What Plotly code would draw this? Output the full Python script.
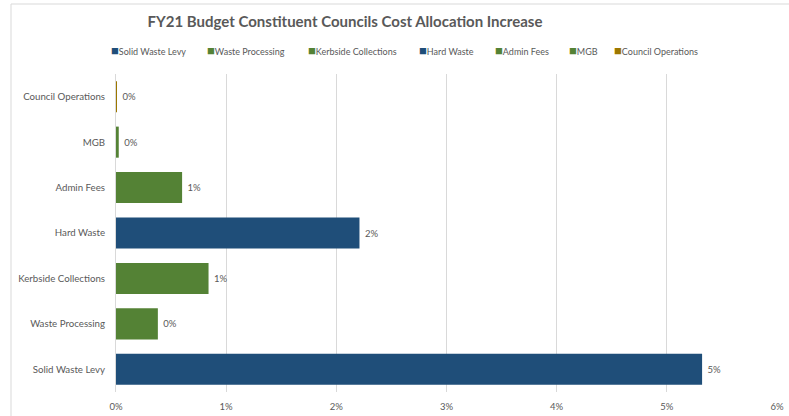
import plotly.graph_objects as go

# Cost allocation increase by budget item (fraction of total)
categories = [
    "Solid Waste Levy",
    "Waste Processing",
    "Kerbside Collections",
    "Hard Waste",
    "Admin Fees",
    "MGB",
    "Council Operations",
]
increase = [0.0532, 0.0038, 0.0084, 0.0221, 0.0060, 0.00025, 0.00001]
x_ticks = [0, 0.01, 0.02, 0.03, 0.04, 0.05, 0.06]

BLUE = "#1F4E79"
GREEN = "#548235"
GOLD = "#9C7700"
bar_colors = [BLUE, GREEN, GREEN, BLUE, GREEN, GREEN, GOLD]

TEXT = "#595959"
GRID = "#D9D9D9"
FONT = "Lato, Calibri, sans-serif"

W, H = 789, 416
M = dict(l=116, r=12, t=74, b=24)

label_font = dict(size=9.5, color=TEXT, family=FONT)

fig = go.Figure(
    go.Bar(
        y=categories,
        x=increase,
        orientation="h",
        marker=dict(color=bar_colors, line=dict(width=0)),
        texttemplate="\u00a0%{x:.0%}",
        textposition="outside",
        cliponaxis=False,
        textfont=label_font,
        outsidetextfont=label_font,
        showlegend=False,
        hoverinfo="skip",
    )
)

# pixel -> paper coordinate helpers for decorations outside the plot area
pw = W - M["l"] - M["r"]
ph = H - M["t"] - M["b"]


def px_x(px):
    return (px - M["l"]) / pw


def px_y(py):
    return (H - M["b"] - py) / ph


shapes = [
    # chart area frame (top and left edges)
    dict(type="line", xref="paper", yref="paper", x0=px_x(11), x1=px_x(W + 5),
         y0=px_y(4), y1=px_y(4), line=dict(color=GRID, width=1)),
    dict(type="line", xref="paper", yref="paper", x0=px_x(11), x1=px_x(11),
         y0=px_y(4), y1=px_y(H + 5), line=dict(color=GRID, width=1)),
]

# legend row: small coloured square followed by the series name
legend_x = [109, 205, 306, 417, 493, 567, 612]
annotations = []
for name, color, lx in zip(categories, bar_colors, legend_x):
    annotations.append(
        dict(
            xref="paper", yref="paper", x=px_x(lx), y=px_y(50),
            xanchor="left", yanchor="middle", showarrow=False,
            text=f'<span style="color:{color};font-size:13px">\u25A0</span>{name}',
            font=dict(size=9, color=TEXT, family=FONT),
        )
    )

fig.update_layout(
    width=W,
    height=H,
    margin=M,
    paper_bgcolor="white",
    plot_bgcolor="white",
    barmode="overlay",
    bargap=0.316,
    font=dict(family=FONT, color=TEXT),
    title=dict(
        text="<b>FY21 Budget Constituent Councils Cost Allocation Increase</b>",
        x=345 / W, xref="container", xanchor="center",
        y=1 - 22 / H, yref="container", yanchor="middle",
        font=dict(size=15, color=TEXT, family=FONT),
    ),
    xaxis=dict(
        range=[0, 0.06],
        tickvals=x_ticks,
        tickformat=".0%",
        showgrid=True,
        gridcolor=GRID,
        gridwidth=1,
        zeroline=False,
        showline=False,
        ticks="",
        ticklabelstandoff=7,
        automargin=False,
        tickfont=dict(size=9.5, color=TEXT, family=FONT),
    ),
    yaxis=dict(
        categoryorder="array",
        categoryarray=categories,
        range=[-0.5, 6.5],
        showgrid=False,
        zeroline=False,
        showline=True,
        linecolor=GRID,
        linewidth=1,
        ticks="",
        ticklabelstandoff=8,
        automargin=False,
        tickfont=dict(size=9.7, color=TEXT, family=FONT),
    ),
    shapes=shapes,
    annotations=annotations,
)

fig.write_html("out.html")
